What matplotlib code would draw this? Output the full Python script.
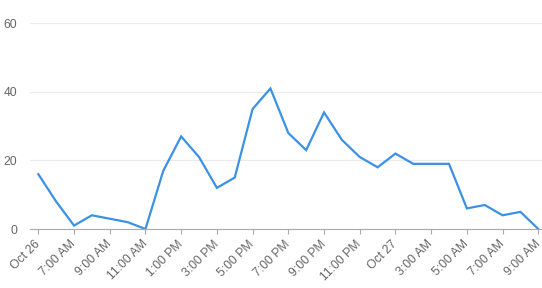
import matplotlib
matplotlib.use("Agg")
import matplotlib.pyplot as plt

# hourly values, Oct 26 5 AM .. Oct 27 9 AM
values = [16, 8, 1, 4, 3, 2, 0, 17, 27, 21, 12, 15, 35, 41, 28,
          23, 34, 26, 21, 18, 22, 19, 19, 19, 6, 7, 4, 5, 0]
tick_labels = ["Oct 26", "7:00 AM", "9:00 AM", "11:00 AM", "1:00 PM", "3:00 PM",
               "5:00 PM", "7:00 PM", "9:00 PM", "11:00 PM", "Oct 27", "3:00 AM",
               "5:00 AM", "7:00 AM", "9:00 AM"]
y_ticks = [0, 20, 40, 60]

plt.rcParams['font.family'] = ['Liberation Sans', 'DejaVu Sans']

fig = plt.figure(figsize=(5.42, 2.88), dpi=100)
ax = fig.add_axes([30 / 542, 59 / 288, 511.7 / 542, 205.7 / 288])

x = list(range(len(values)))
ax.plot(x, values, color='#3a92e6', linewidth=1.6, solid_joinstyle='miter')

ax.set_xlim(-0.465, len(values) - 1 + 0.19)
ax.set_ylim(0, 60)

ax.set_xticks(x[::2])
ax.set_xticklabels(tick_labels, rotation=45, ha='right', va='center',
                   rotation_mode='anchor', fontsize=8.8, color='#666666')
ax.set_yticks(y_ticks)
ax.set_yticklabels([str(v) for v in y_ticks], fontsize=8.8, color='#666666')

ax.grid(axis='y', color='#ebebeb', linewidth=0.8)
ax.set_axisbelow(True)
for s in ['top', 'right', 'left']:
    ax.spines[s].set_visible(False)
ax.spines['bottom'].set_color('#aaaaaa')
ax.spines['bottom'].set_linewidth(0.8)
ax.tick_params(axis='x', length=3.5, width=0.8, color='#aaaaaa', pad=6)
ax.tick_params(axis='y', length=0, pad=9)

fig.savefig("out.png", dpi=100)
